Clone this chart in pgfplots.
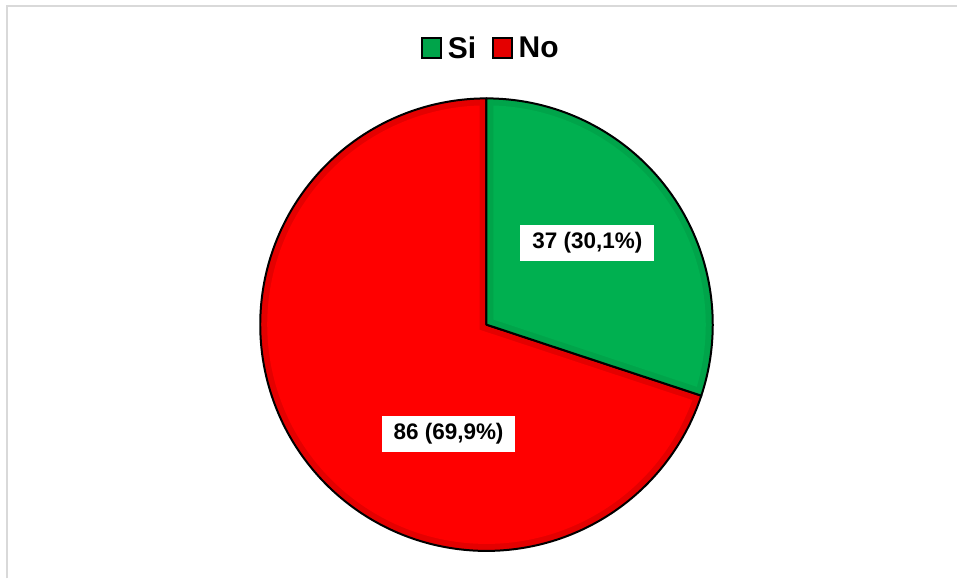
\documentclass[border=0pt]{standalone}
\usepackage{pgfplots}
\pgfplotsset{compat=1.18}
\usepackage{pgfplotstable}
\usepackage{fontspec}
\setmainfont{Liberation Sans}
\definecolor{siL}{HTML}{00B050}
\definecolor{siD}{HTML}{00A44A}
\definecolor{noL}{HTML}{FF0000}
\definecolor{noD}{HTML}{E40000}
\definecolor{frameG}{HTML}{D9D9D9}
\pgfplotstableread{
cat value
Si 37
No 86
}\piedata
\pgfplotstablegetelem{0}{value}\of\piedata \let\vSi\pgfplotsretval
\pgfplotstablegetelem{1}{value}\of\piedata \let\vNo\pgfplotsretval
\pgfmathsetmacro{\tot}{\vSi+\vNo}
\pgfmathsetmacro{\aB}{90-360*\vSi/\tot}
\def\cx{487}\def\cy{254}\def\R{226.5}\def\dd{7}
\pgfmathsetmacro{\Ri}{\R-\dd}
\pgfmathsetmacro{\e}{asin(\dd/\Ri)}
% Si wedge (from aB to 90)
\pgfmathsetmacro{\bisS}{(90+\aB)/2}
\pgfmathsetmacro{\vdS}{\dd/sin((90-\aB)/2)}
\pgfmathsetmacro{\pSx}{\cx+\vdS*cos(\bisS)}
\pgfmathsetmacro{\pSy}{\cy+\vdS*sin(\bisS)}
\pgfmathsetmacro{\sA}{\aB+\e}
\pgfmathsetmacro{\sB}{90-\e}
% No wedge (from 90 to 360+aB)
\pgfmathsetmacro{\aN}{360+\aB}
\pgfmathsetmacro{\bisN}{(90+\aN)/2}
\pgfmathsetmacro{\vdN}{\dd/sin((\aN-90)/2)}
\pgfmathsetmacro{\pNx}{\cx+\vdN*cos(\bisN)}
\pgfmathsetmacro{\pNy}{\cy+\vdN*sin(\bisN)}
\pgfmathsetmacro{\nA}{90+\e}
\pgfmathsetmacro{\nB}{\aN-\e}
\begin{document}
\begin{tikzpicture}
\begin{axis}[
  scale only axis, width=958pt, height=579pt,
  xmin=0, xmax=958, ymin=0, ymax=579,
  hide axis, clip=false,
  legend style={draw=none, fill=none, inner sep=0pt,
    at={(axis cs:491.5,531)}, anchor=center,
    font=\fontsize{30}{30}\selectfont\bfseries,
    /tikz/every odd column/.append style={column sep=4pt},
    /tikz/every even column/.append style={column sep=14pt}},
  legend columns=-1,
]
\path (axis cs:0,0) -- (axis cs:958,579);
\draw[frameG, line width=2pt] (axis cs:7,0) -- (axis cs:7,573) -- (axis cs:958,573);
% No slice
\addplot[forget plot, fill=noD, draw=black, line width=2pt, line join=round, domain=90:\aN, samples=240]
  ({\cx+\R*cos(x)},{\cy+\R*sin(x)}) -- (axis cs:\cx,\cy) -- cycle;
\addplot[forget plot, fill=noL, draw=none, domain=\nA:\nB, samples=240]
  ({\cx+\Ri*cos(x)},{\cy+\Ri*sin(x)}) -- (axis cs:\pNx,\pNy) -- cycle;
% Si slice
\addplot[forget plot, fill=siD, draw=black, line width=2pt, line join=round, domain=\aB:90, samples=120]
  ({\cx+\R*cos(x)},{\cy+\R*sin(x)}) -- (axis cs:\cx,\cy) -- cycle;
\addplot[forget plot, fill=siL, draw=none, domain=\sA:\sB, samples=120]
  ({\cx+\Ri*cos(x)},{\cy+\Ri*sin(x)}) -- (axis cs:\pSx,\pSy) -- cycle;
% labels
\node[fill=white, inner sep=0pt, minimum width=134pt, minimum height=36pt,
  font=\fontsize{22.5}{27}\selectfont\bfseries] at (axis cs:588,336) {37 (30,1\%)};
\node[fill=white, inner sep=0pt, minimum width=134pt, minimum height=36pt,
  font=\fontsize{22.5}{27}\selectfont\bfseries] at (axis cs:449,145) {86 (69,9\%)};
% legend
\addlegendimage{legend image code/.code={\draw[fill=siD, draw=black, line width=1.5pt] (0pt,-10pt) rectangle (19pt,10pt);}}
\addlegendentry{Si}
\addlegendimage{legend image code/.code={\draw[fill=noD, draw=black, line width=1.5pt] (0pt,-10pt) rectangle (19pt,10pt);}}
\addlegendentry{No}
\end{axis}
\end{tikzpicture}
\end{document}
